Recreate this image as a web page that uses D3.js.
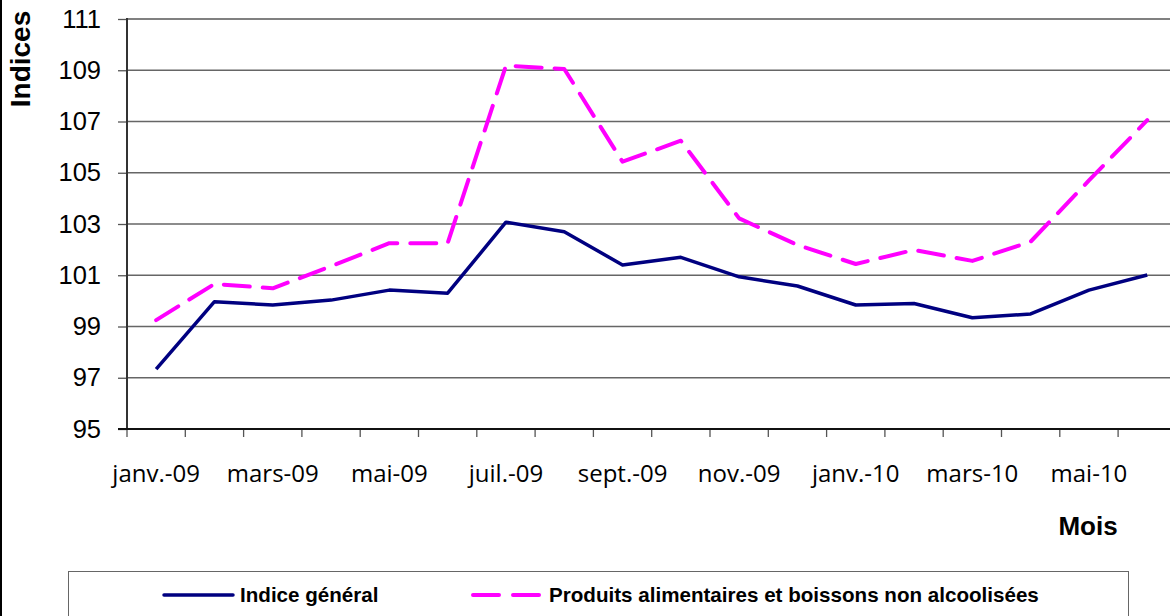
<!DOCTYPE html>
<html>
<head>
<meta charset="utf-8">
<script src="https://cdn.jsdelivr.net/npm/d3@7"></script>
<style>
  body { margin: 0; background: #fff; }
  svg { display: block; }
</style>
</head>
<body>
<svg width="1170" height="616"></svg>
<script>
const months = ["janv.-09", "févr.-09", "mars-09", "avr.-09", "mai-09", "juin-09",
  "juil.-09", "août-09", "sept.-09", "oct.-09", "nov.-09", "déc.-09",
  "janv.-10", "févr.-10", "mars-10", "avr.-10", "mai-10", "juin-10"];

const indiceGeneral = [97.34, 99.97, 99.84, 100.03, 100.42, 100.30, 103.07, 102.70, 101.40,
  101.70, 100.94, 100.58, 99.84, 99.90, 99.34, 99.49, 100.42, 101.01];

const produitsAlimentaires = [99.25, 100.66, 100.49, 101.35, 102.25, 102.25, 109.18, 109.05, 105.43,
  106.25, 103.22, 102.18, 101.44, 101.99, 101.56, 102.31, 104.70, 107.05];

const yTicks = [95, 97, 99, 101, 103, 105, 107, 109, 111];

const series = [
  { name: "Indice général", values: indiceGeneral, color: "#000080", dash: null, width: 3.5 },
  { name: "Produits alimentaires et boissons non alcoolisées", values: produitsAlimentaires, color: "#FF00FF", dash: "26,13", width: 4 }
];

const svg = d3.select("svg");
const plotLeft = 127, plotRight = 1176.4, plotTop = 19, plotBottom = 429;

// scales
const xScale = d3.scaleBand().domain(months).range([plotLeft, plotRight]).padding(0);
const xc = m => xScale(m) + xScale.bandwidth() / 2;
const yScale = d3.scaleLinear().domain([95, 111]).range([plotBottom, plotTop]);

// outer chart border (left edge only visible)
svg.append("line")
  .attr("x1", 1).attr("x2", 1).attr("y1", 0).attr("y2", 616)
  .attr("stroke", "#000").attr("stroke-width", 2);

// gridlines
svg.append("g").selectAll("line")
  .data(yTicks.filter(d => d !== 95))
  .join("line")
    .attr("x1", plotLeft).attr("x2", plotRight)
    .attr("y1", d => yScale(d)).attr("y2", d => yScale(d))
    .attr("stroke", d => d === 111 ? "#808080" : "#666")
    .attr("stroke-width", d => d === 111 ? 2 : 1.4);

// y axis
const yAxis = d3.axisLeft(yScale).tickValues(yTicks).tickSize(9).tickPadding(17);
svg.append("g")
  .attr("transform", `translate(${plotLeft},0)`)
  .call(yAxis)
  .call(g => g.select(".domain").remove())
  .call(g => g.selectAll(".tick line").attr("stroke", "#555").attr("stroke-width", 1.3))
  .call(g => g.selectAll("text")
    .attr("font-family", "'Liberation Sans', Arial, sans-serif")
    .attr("font-size", 25.5).attr("fill", "#000"));

svg.append("line")
  .attr("x1", plotLeft).attr("x2", plotLeft).attr("y1", plotTop - 1).attr("y2", plotBottom)
  .attr("stroke", "#333").attr("stroke-width", 2);

// x axis: ticks at category boundaries
const bounds = months.map(m => xScale(m)).concat([plotRight]);
svg.append("g").selectAll("line")
  .data(bounds)
  .join("line")
    .attr("x1", d => d).attr("x2", d => d)
    .attr("y1", plotBottom).attr("y2", plotBottom + 8)
    .attr("stroke", "#555").attr("stroke-width", 1.3);

svg.append("line")
  .attr("x1", plotLeft - 9).attr("x2", plotRight).attr("y1", plotBottom).attr("y2", plotBottom)
  .attr("stroke", "#111").attr("stroke-width", 2);

svg.append("g").selectAll("text")
  .data(months.filter((m, i) => i % 2 === 0))
  .join("text")
    .attr("x", d => xc(d))
    .attr("y", 482)
    .attr("text-anchor", "middle")
    .attr("font-family", "'Open Sans', 'Noto Sans', sans-serif")
    .attr("font-size", 24)
    .attr("fill", "#000")
    .text(d => d);

// lines
const line = d3.line()
  .x((d, i) => xc(months[i]))
  .y(d => yScale(d));

svg.append("g").selectAll("path")
  .data(series)
  .join("path")
    .attr("d", d => line(d.values))
    .attr("fill", "none")
    .attr("stroke", d => d.color)
    .attr("stroke-width", d => d.width)
    .attr("stroke-dasharray", d => d.dash)
    .attr("stroke-linecap", d => d.dash ? "round" : "butt")
    .attr("stroke-linejoin", "round");

// axis titles
svg.append("text")
  .attr("transform", "translate(30, 59) rotate(-90)")
  .attr("text-anchor", "middle")
  .attr("font-family", "'Liberation Sans', Arial, sans-serif")
  .attr("font-weight", "bold")
  .attr("font-size", 28)
  .text("Indices");

svg.append("text")
  .attr("x", 1088).attr("y", 535)
  .attr("text-anchor", "middle")
  .attr("font-family", "'Liberation Sans', Arial, sans-serif")
  .attr("font-weight", "bold")
  .attr("font-size", 26)
  .text("Mois");

// legend
svg.append("rect")
  .attr("x", 68.5).attr("y", 571.5).attr("width", 1060).attr("height", 60)
  .attr("fill", "#fff").attr("stroke", "#666").attr("stroke-width", 1);

const legendX = [164, 473];
const legend = svg.append("g").selectAll("g")
  .data(series)
  .join("g")
    .attr("transform", (d, i) => `translate(${legendX[i]}, 595)`);

legend.append("line")
  .attr("x1", 0).attr("x2", 69).attr("y1", 0).attr("y2", 0)
  .attr("stroke", d => d.color)
  .attr("stroke-width", d => d.width)
  .attr("stroke-dasharray", d => d.dash ? "26,14" : null)
  .attr("stroke-linecap", "round");

legend.append("text")
  .attr("x", 76).attr("y", 7)
  .attr("font-family", "'Liberation Sans', Arial, sans-serif")
  .attr("font-weight", "bold")
  .attr("font-size", 20.6)
  .text(d => d.name);
</script>
</body>
</html>
